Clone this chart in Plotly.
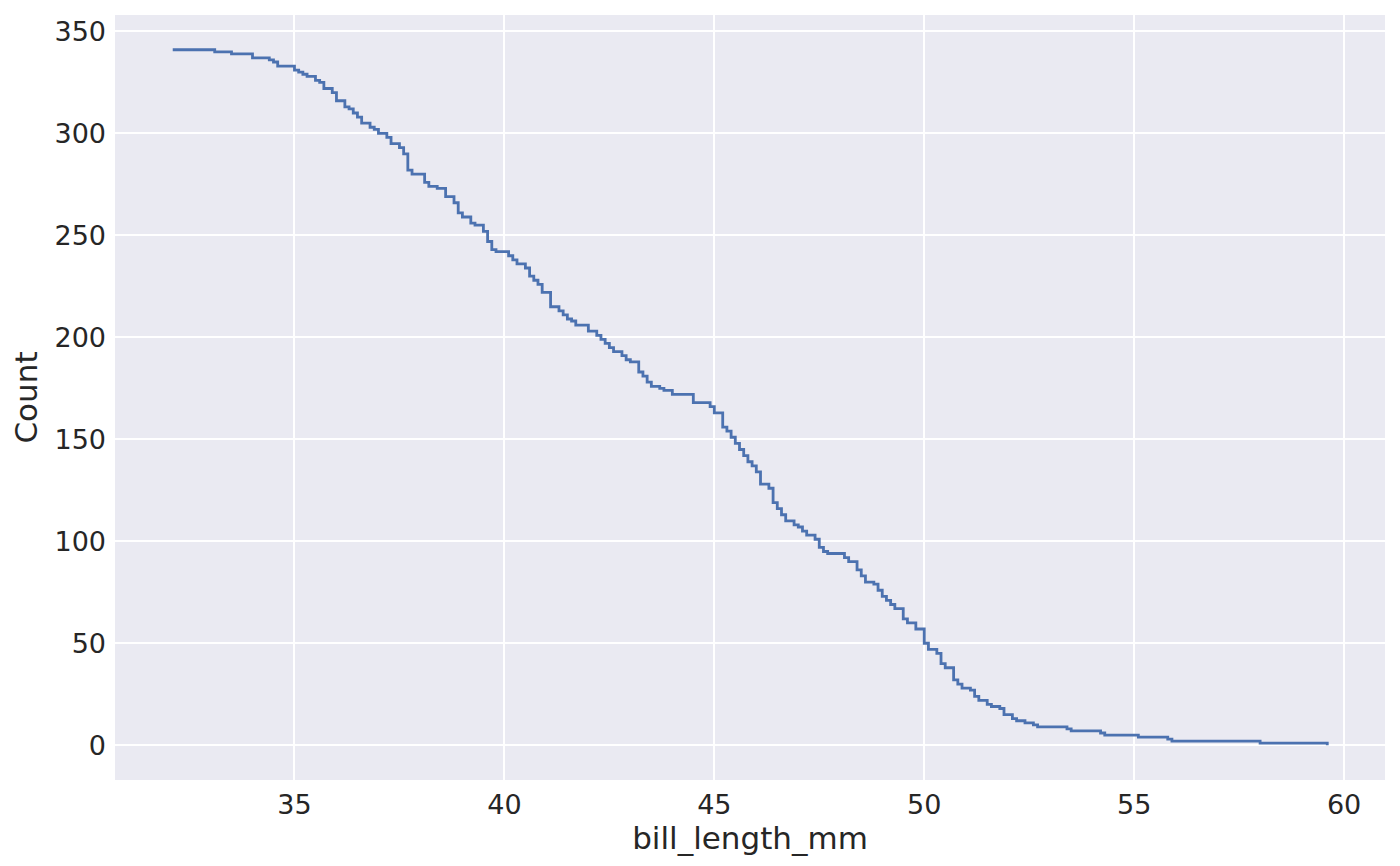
import plotly.graph_objects as go

# Step positions (bill length in mm) and the complementary count after each step
bill_length_mm = [
    32.1, 33.1, 33.5, 34.0, 34.4, 34.5, 34.6, 35.0, 35.1, 35.2, 35.3, 35.5, 35.6, 35.7,
    35.9, 36.0, 36.2, 36.3, 36.4, 36.5, 36.6, 36.6, 36.8, 36.9, 37.0, 37.2, 37.3, 37.5,
    37.6, 37.7, 37.7, 37.8, 38.1, 38.2, 38.4, 38.6, 38.6, 38.8, 38.9, 38.9, 39.0, 39.2,
    39.3, 39.5, 39.6, 39.7, 39.8, 40.1, 40.2, 40.3, 40.5, 40.6, 40.7, 40.8, 40.9, 41.1,
    41.3, 41.4, 41.5, 41.6, 41.7, 42.0, 42.2, 42.3, 42.4, 42.5, 42.6, 42.8, 42.9, 43.0,
    43.2, 43.3, 43.4, 43.5, 43.7, 43.8, 44.0, 44.5, 44.9, 45.0, 45.2, 45.3, 45.4, 45.5,
    45.6, 45.7, 45.8, 45.9, 46.0, 46.1, 46.3, 46.4, 46.5, 46.6, 46.7, 46.9, 47.0, 47.1,
    47.2, 47.4, 47.5, 47.6, 47.7, 48.1, 48.2, 48.4, 48.5, 48.6, 48.8, 48.9, 49.0, 49.1,
    49.2, 49.3, 49.5, 49.5, 49.6, 49.8, 50.0, 50.0, 50.1, 50.3, 50.4, 50.5, 50.7, 50.7,
    50.8, 50.9, 51.1, 51.2, 51.3, 51.5, 51.6, 51.8, 51.9, 52.1, 52.2, 52.4, 52.6, 52.7,
    53.4, 53.5, 54.2, 54.3, 55.1, 55.8, 55.9, 58.0, 59.6,
]
count = [
    341, 340, 339, 337, 336, 335, 333, 331, 330, 329, 328, 326, 325, 322,
    320, 316, 313, 312, 310, 308, 306, 305, 303, 302, 300, 298, 295, 293,
    290, 287, 282, 280, 276, 274, 273, 271, 269, 266, 264, 261, 259, 256,
    255, 252, 247, 243, 242, 240, 238, 236, 234, 230, 228, 226, 222, 215,
    213, 211, 209, 208, 206, 203, 201, 199, 197, 195, 193, 191, 189, 188,
    183, 181, 178, 176, 175, 174, 172, 168, 166, 163, 156, 154, 151, 148,
    145, 142, 139, 137, 134, 128, 126, 119, 116, 113, 110, 108, 107, 105,
    103, 101, 97, 95, 94, 92, 90, 86, 83, 80, 79, 76, 73, 71,
    69, 67, 65, 62, 60, 57, 53, 50, 47, 45, 40, 38, 35, 32,
    30, 28, 27, 24, 22, 20, 19, 18, 15, 13, 12, 11, 10, 9,
    8, 7, 6, 5, 4, 3, 2, 1, 0,
]

x_ticks = [35, 40, 45, 50, 55, 60]
y_ticks = [0, 50, 100, 150, 200, 250, 300, 350]

fig = go.Figure()
fig.add_trace(go.Scatter(
    x=bill_length_mm, y=count, mode="lines", line_shape="hv",
    line=dict(color="#4C72B0", width=2.8), showlegend=False,
))

font = "DejaVu Sans"
fig.update_layout(
    width=1392, height=858,
    margin=dict(l=107, r=15, t=7, b=86),
    paper_bgcolor="white", plot_bgcolor="#EAEAF2",
    font=dict(family=font, color="#262626", size=27),
)
fig.update_xaxes(
    range=[30.725, 60.975], tickvals=x_ticks, ticktext=[str(v) for v in x_ticks],
    showgrid=True, gridcolor="white", gridwidth=2.2, zeroline=False, showline=False,
    ticks="", tickfont=dict(size=27), ticklabelstandoff=6,
    title=dict(text="bill_length_mm", font=dict(size=31), standoff=0),
)
fig.update_yaxes(
    range=[-17.05, 358.05], tickvals=y_ticks, ticktext=[str(v) for v in y_ticks],
    showgrid=True, gridcolor="white", gridwidth=2.2, zeroline=False, showline=False,
    ticks="", tickfont=dict(size=27), ticklabelstandoff=8,
    title=dict(text="Count", font=dict(size=31), standoff=10),
)

fig.write_html("out.html")
